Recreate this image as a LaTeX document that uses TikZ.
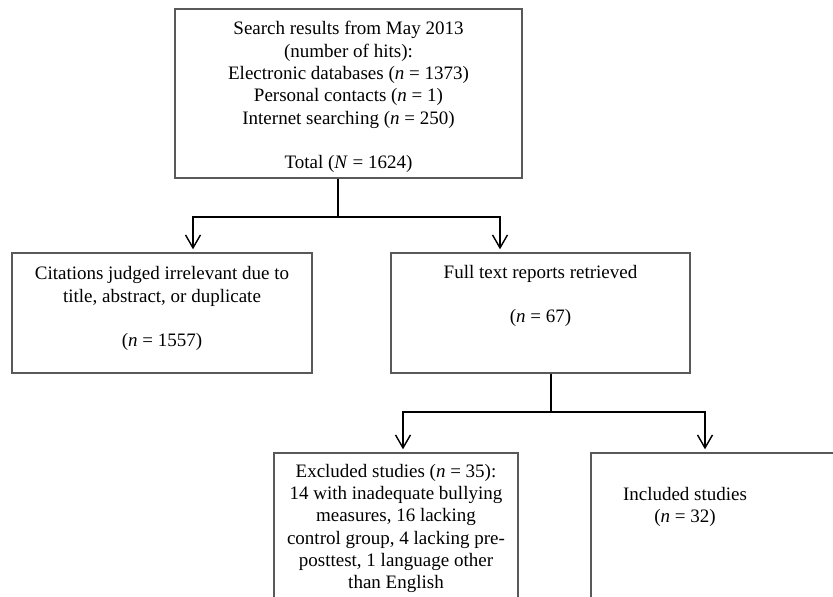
\documentclass[tikz,border=0pt]{standalone}
\usepackage{fontspec}
\setmainfont{Liberation Serif}
\usetikzlibrary{arrows.meta}
\tikzset{
  boxnode/.style={draw=black!65, line width=1.4pt, rectangle, inner sep=0pt},
  txt/.style={align=center, inner sep=0pt, anchor=north, font=\fontsize{19}{22.3}\selectfont},
  conn/.style={draw=black, line width=1.4pt},
  arr/.style={conn, -{Straight Barb[length=13pt,width=15pt,line width=1.4pt]}, shorten >=3pt}
}
\begin{document}
\begin{tikzpicture}[x=1pt,y=-1pt]
\useasboundingbox (0,0) rectangle (833,597);
\clip (0,0) rectangle (833,597);
\fill[white] (0,0) rectangle (833,597);
% boxes
\node[boxnode, minimum width=347pt, minimum height=169pt] (b1) at (348.5,93.5) {};
\node[boxnode, minimum width=300pt, minimum height=120pt] (b2) at (162,313) {};
\node[boxnode, minimum width=299pt, minimum height=120pt] (b3) at (540.5,313) {};
\node[boxnode, minimum width=244pt, minimum height=174pt] (b4) at (396,540) {};
\node[boxnode, minimum width=320pt, minimum height=174pt] (b5) at (751,540) {};
% texts
\node[txt] (t1) at (348.5,21.3) {Search results from May 2013\\(number of hits):\\Electronic databases (\textit{n} = 1373)\\Personal contacts (\textit{n} = 1)\\Internet searching (\textit{n} = 250)\\[22.3pt]Total (\textit{N} = 1624)};
\node[txt] (t2) at (162,266.5) {Citations judged irrelevant due to\\title, abstract, or duplicate\\[22.3pt](\textit{n} = 1557)};
\node[txt] (t3) at (540.5,265) {Full text reports retrieved\\[22.3pt](\textit{n} = 67)};
\node[txt] (t4) at (396,464) {Excluded studies (\textit{n} = 35):\\14 with inadequate bullying\\measures, 16 lacking\\control group, 4 lacking pre-\\posttest, 1 language other\\than English};
\node[txt] (t5) at (685,487) {Included studies\\(\textit{n} = 32)};
% connectors
\coordinate (j1) at (338,217);
\coordinate (j2) at (551,412);
\draw[conn] (b1.south -| j1) -- (j1);
\draw[arr] (j1) -| ([xshift=31pt]b2.north);
\draw[arr] (j1) -| ([xshift=-40.5pt]b3.north);
\draw[conn] (b3.south -| j2) -- (j2);
\draw[arr] (j2) -| ([xshift=7pt]b4.north);
\draw[arr] (j2) -| (b5.north -| 705,0);
\end{tikzpicture}
\end{document}
